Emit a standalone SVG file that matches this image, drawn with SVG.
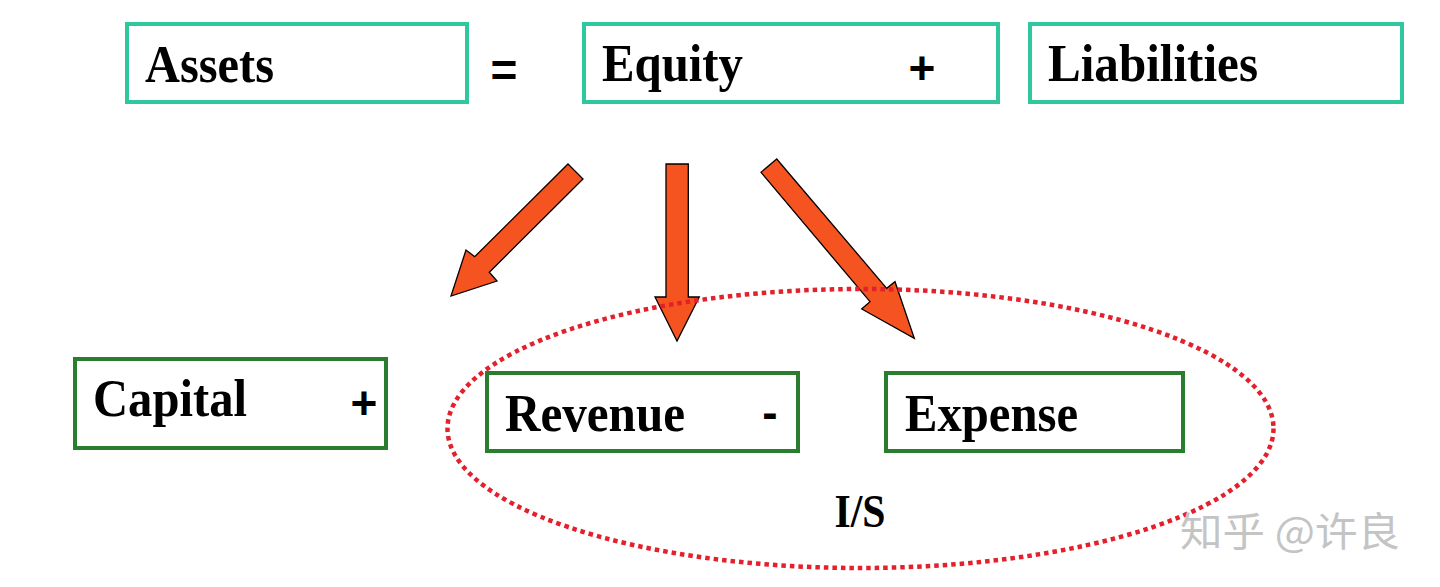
<svg xmlns="http://www.w3.org/2000/svg" width="1440" height="587" viewBox="0 0 1440 587">
<style>
.top{fill:#fff;stroke:#2ec79e;stroke-width:4}
.bot{fill:#fff;stroke:#2a7d2e;stroke-width:4}
.lbl{font-family:"Liberation Serif","Times New Roman",serif;font-weight:bold;font-size:53px;fill:#000}
.op{font-family:"Liberation Sans",Arial,sans-serif;font-weight:bold;font-size:46px;fill:#000;text-anchor:middle}
.arr{fill:#f5531f;stroke:#000;stroke-width:1.3;stroke-linejoin:miter}
</style>
<rect width="1440" height="587" fill="#fff"/>
<g id="assets"><rect class="top" x="127" y="24" width="340" height="78"/><text class="lbl" x="145" y="82" textLength="129" lengthAdjust="spacingAndGlyphs">Assets</text></g>
<g id="equals"><text class="op" x="504" y="86">=</text></g>
<g id="equity"><rect class="top" x="584" y="24" width="414" height="78"/><text class="lbl" x="602" y="81" textLength="141" lengthAdjust="spacingAndGlyphs">Equity</text><text class="op" x="922" y="84">+</text></g>
<g id="liabilities"><rect class="top" x="1030" y="24" width="372" height="78"/><text class="lbl" x="1048" y="81" textLength="210" lengthAdjust="spacingAndGlyphs">Liabilities</text></g>
<g id="connectors">
<polygon class="arr" points="568,164 583,179 489.3,272.3 497,281 451,296 466,250 474.7,256.7"/>
<polygon class="arr" points="666,164 688.3,164 688.3,297 699.3,297 677,341 655,297 666,297"/>
<polygon class="arr" points="776.7,159 761,172.3 870,301.7 861.7,309 914.3,338.3 895,281.7 886.7,288.3"/>
</g>
<g id="capital"><rect class="bot" x="75" y="359" width="311" height="89"/><text class="lbl" x="93" y="416" textLength="154" lengthAdjust="spacingAndGlyphs">Capital</text><text class="op" x="364" y="419">+</text></g>
<g id="revenue"><rect class="bot" x="487" y="373" width="311" height="78"/><text class="lbl" x="505" y="431" textLength="180" lengthAdjust="spacingAndGlyphs">Revenue</text><text class="op" x="770" y="428">-</text></g>
<g id="expense"><rect class="bot" x="886" y="373" width="297" height="78"/><text class="lbl" x="905" y="431" textLength="173" lengthAdjust="spacingAndGlyphs">Expense</text></g>
<g id="is-group"><ellipse cx="860.5" cy="428.5" rx="413" ry="139.5" fill="none" stroke="#e3202c" stroke-width="4.5" stroke-dasharray="4.5 4"/><text x="860" y="527" text-anchor="middle" textLength="51" lengthAdjust="spacingAndGlyphs" style="font-family:'Liberation Serif','Times New Roman',serif;font-weight:bold;font-size:46px;fill:#000">I/S</text></g>
<text x="1180" y="546" textLength="220" lengthAdjust="spacingAndGlyphs" style="font-family:'Noto Sans CJK SC','Noto Sans',sans-serif;font-size:40px;fill:#c4c4c4">知乎 @许良</text>
</svg>
